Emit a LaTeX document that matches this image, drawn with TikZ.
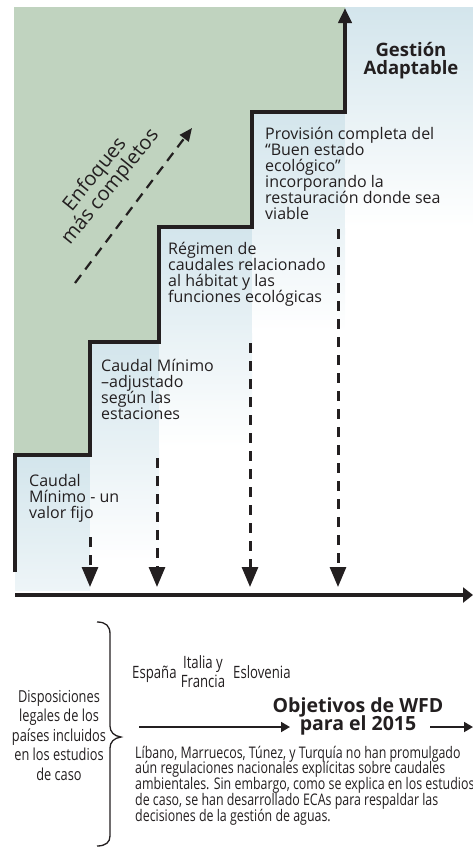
\documentclass[tikz,border=0pt]{standalone}
\usepackage{fontspec}
\setmainfont{Open Sans}
\newfontfamily\condfont[FakeStretch=0.775]{Open Sans}
\usetikzlibrary{arrows.meta}
\definecolor{stepgreen}{HTML}{C0D3BF}
\definecolor{paleblue}{HTML}{D3E5EC}
\definecolor{ink}{HTML}{231F20}
\def\Lstack#1{\vtop{\lineskiplimit=-100pt\lineskip=0pt\halign{##\hfil\cr#1\crcr}}}
\def\Cstack#1{\vtop{\lineskiplimit=-100pt\lineskip=0pt\halign{\hfil##\hfil\cr#1\crcr}}}
\begin{document}
\begin{tikzpicture}[x=1pt,y=-1pt,
  steptext/.style={anchor=base west,inner sep=0pt,text=ink,font=\fontsize{16}{16}\selectfont},
  headtext/.style={anchor=base,inner sep=0pt,text=ink,font=\bfseries\fontsize{18.5}{18.5}\selectfont},
  condtext/.style={inner sep=0pt,text=ink,font=\condfont\fontsize{16}{15.8}\selectfont},
  stair/.style={line width=4pt,draw=ink,line join=miter},
  vdash/.style={line width=3pt,draw=ink,dash pattern=on 10pt off 8pt,-{Triangle[width=16pt,length=20pt]}},
  thinarrow/.style={line width=1.8pt,draw=ink,-{Triangle[width=10pt,length=9pt]}}]
\useasboundingbox (0,0) rectangle (473,847);
% background columns
\shade[top color=paleblue,bottom color=paleblue!39!white] (15,455) rectangle (90,590);
\shade[top color=paleblue,bottom color=white] (90,342) rectangle (159,562);
\shade[top color=paleblue,bottom color=white] (159,227) rectangle (252,447);
\shade[top color=paleblue,bottom color=white] (252,112) rectangle (345,332);
\shade[top color=paleblue,bottom color=white] (345,7) rectangle (473,227);
% green area
\fill[stepgreen] (14,7) -- (345,7) -- (345,112) -- (252,112) -- (252,227) -- (159,227)
  -- (159,342) -- (90,342) -- (90,455) -- (14,455) -- cycle;
% staircase
\coordinate (s0) at (15,572);
\coordinate (s1) at (15,455);
\coordinate (s2) at (90,455);
\coordinate (s3) at (90,342);
\coordinate (s4) at (159,342);
\coordinate (s5) at (159,227);
\coordinate (s6) at (252,227);
\coordinate (s7) at (252,112);
\coordinate (s8) at (345,112);
\coordinate (s9) at (345,8);
\draw[stair,-{Triangle[width=13pt,length=15pt]}] (s0) -- (s1) -- (s2) -- (s3) -- (s4) -- (s5) -- (s6) -- (s7) -- (s8) -- (s9);
% axis
\coordinate (ax0) at (15,595);
\coordinate (ax1) at (473,595);
\draw[line width=3.5pt,draw=ink,-{Triangle[width=15pt,length=10pt]}] (ax0) -- (ax1);
% dashed down arrows
\coordinate (d1a) at (90,537);  \coordinate (d1b) at (90,587);
\coordinate (d2a) at (157,458); \coordinate (d2b) at (157,587);
\coordinate (d3a) at (250,343); \coordinate (d3b) at (250,587);
\coordinate (d4a) at (338,229); \coordinate (d4b) at (338,587);
\draw[vdash] (d1a) -- (d1b);
\draw[vdash] (d2a) -- (d2b);
\draw[vdash] (d3a) -- (d3b);
\draw[vdash] (d4a) -- (d4b);
% diagonal arrow
\coordinate (g0) at (75,283);
\coordinate (g1) at (192,128);
\draw[line width=2.2pt,draw=ink,dash pattern=on 10pt off 7pt,-{Triangle[width=11pt,length=13pt]}] (g0) -- (g1);
\node[inner sep=0pt,text=ink,rotate=51,font=\fontsize{20}{20}\selectfont] (enf) at (103,181)
  {\Cstack{Enfoques\cr más completos}};
% step texts
\node[headtext] (gest) at (411,56) {\Cstack{Gestión\cr Adaptable}};
\node[steptext] (t4) at (265,139) {\Lstack{Provisión completa del\cr “Buen estado\cr ecológico”\cr incorporando la\cr restauración donde sea\cr viable}};
\node[steptext] (t3) at (168,254) {\Lstack{Régimen de\cr caudales relacionado\cr al hábitat y las\cr funciones ecológicas}};
\node[steptext] (t2) at (101,371) {\Lstack{Caudal Mínimo\cr –adjustado\cr según las\cr estaciones}};
\node[steptext] (t1) at (29,486) {\Lstack{Caudal\cr Mínimo - un\cr valor fijo}};
% bottom part
\draw[line width=1.3pt,draw=ink] (97,622) .. controls (106,622) and (110,626) .. (110,634) -- (110,726)
  .. controls (110,732) and (114,736) .. (121,737) .. controls (114,738) and (110,742) .. (110,748)
  -- (110,836) .. controls (110,842) and (106,846) .. (97,846);
\node[condtext,anchor=base,font=\condfont\fontsize{16.5}{19.5}\selectfont] (disp) at (59,702)
  {\Cstack{Disposiciones\cr legales de los\cr países incluidos\cr en los estudios\cr de caso}};
\node[condtext,anchor=base west,font=\condfont\fontsize{17}{17}\selectfont] (esp) at (132,678) {España};
\node[condtext,anchor=base,font=\condfont\fontsize{17}{19}\selectfont] (ita) at (203,668) {\Cstack{Italia y\cr Francia}};
\node[condtext,anchor=base west,font=\condfont\fontsize{17}{17}\selectfont] (esl) at (233,678) {Eslovenia};
\node[headtext,font=\bfseries\fontsize{19.5}{18.5}\selectfont] (obj) at (358,712) {\Cstack{Objetivos de WFD\cr para el 2015}};
\coordinate (a0) at (139,727);
\coordinate (a1) at (290,727);
\coordinate (b0) at (430,727);
\coordinate (b1) at (473,727);
\draw[thinarrow] (a0) -- (a1);
\draw[thinarrow] (b0) -- (b1);
\node[condtext,anchor=base west] (par) at (135,758)
  {\Lstack{Líbano, Marruecos, Túnez, y Turquía no han promulgado\cr aún regulaciones nacionales explícitas sobre caudales\cr ambientales. Sin embargo, como se explica en los estudios\cr de caso, se han desarrollado ECAs para respaldar las\cr decisiones de la gestión de aguas.}};
\end{tikzpicture}
\end{document}
